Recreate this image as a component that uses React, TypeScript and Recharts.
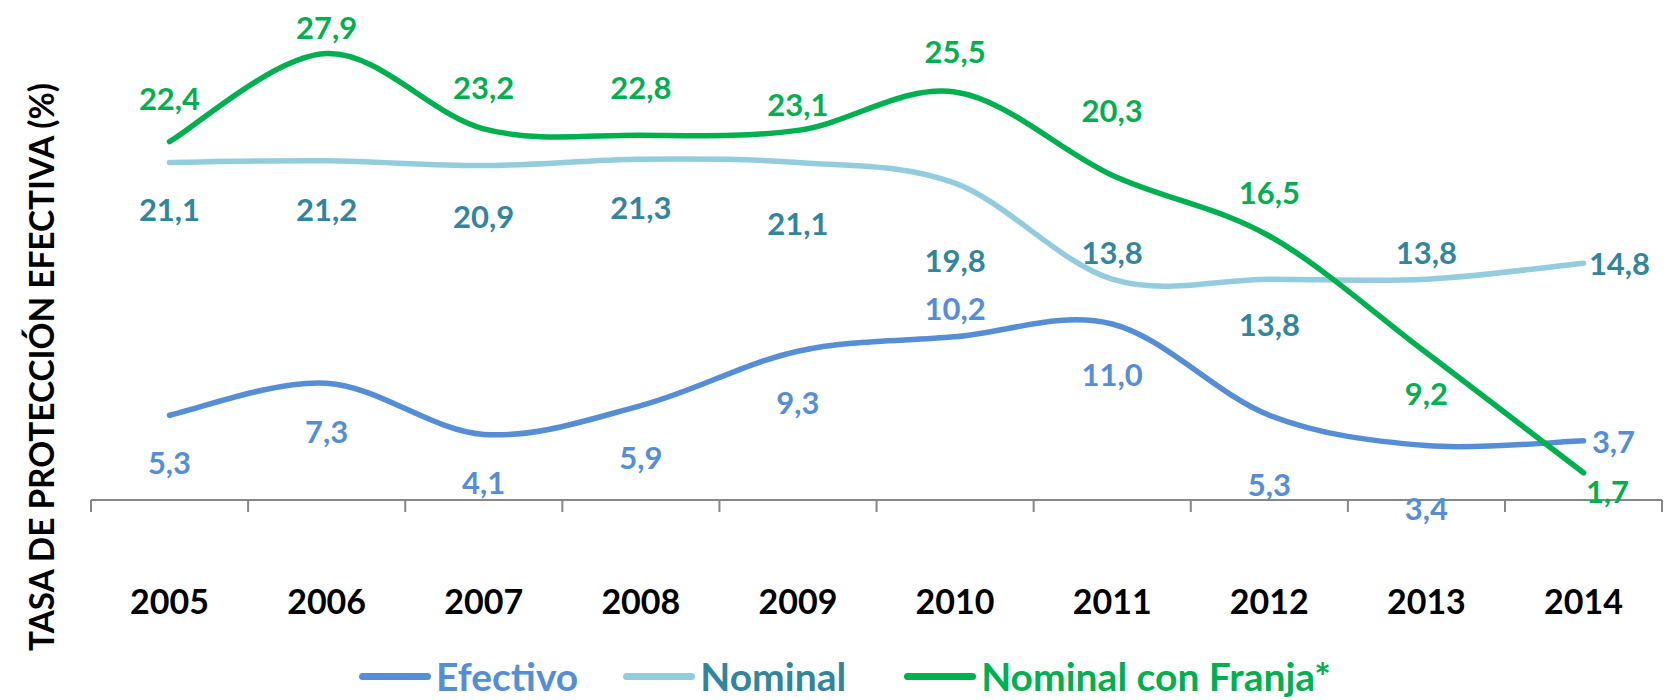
import { LineChart, Line, XAxis, YAxis, LabelList } from 'recharts'

const years = ['2005', '2006', '2007', '2008', '2009', '2010', '2011', '2012', '2013', '2014']
const efectivo = [5.3, 7.3, 4.1, 5.9, 9.3, 10.2, 11.0, 5.3, 3.4, 3.7]
const nominal = [21.1, 21.2, 20.9, 21.3, 21.1, 19.8, 13.8, 13.8, 13.8, 14.8]
const franja = [22.4, 27.9, 23.2, 22.8, 23.1, 25.5, 20.3, 16.5, 9.2, 1.7]

// label nudges (px from the point), like hand-placed Excel labels
const efectivoDx = [0, 0, 0, 0, 0, 0, 0, 0, 0, 30]
const efectivoDy = [47, 48, 48, 51, 51, -29, 50, 69, 62, 0]
const nominalDx = [0, 0, 0, 0, 0, 0, 0, 0, 0, 36]
const nominalDy = [47, 48, 50, 48, 61, 77, -27, 45, -27, 0]
const franjaDx = [0, 0, 0, 0, 0, 0, 0, 0, 0, 24]
const franjaDy = [-44, -27, -42, -48, -26, -41, -65, -44, 40, 18]

const C_EFE = '#558ED5'
const C_NOM = '#93CDDD'
const C_NOM_TXT = '#31859C'
const C_FRA = '#00B050'
const FONT = 'Lato, "Open Sans", sans-serif'
const HALF = 78.5

const data = years.map((year, i) => ({
  year,
  efectivo: efectivo[i],
  nominal: nominal[i],
  franja: franja[i],
}))

const fmt = (v: number) => v.toFixed(1).replace('.', ',')

// Excel-like smoothed line (Catmull-Rom through the points)
function excelCurve(context: any) {
  let pts: number[][] = []
  return {
    areaStart() {},
    areaEnd() {},
    lineStart() {
      pts = []
    },
    point(x: number, y: number) {
      pts.push([+x, +y])
    },
    lineEnd() {
      if (!pts.length) return
      context.moveTo(pts[0][0], pts[0][1])
      if (pts.length === 1) return
      for (let i = 0; i < pts.length - 1; i++) {
        const p0 = pts[i - 1] || pts[i]
        const p1 = pts[i]
        const p2 = pts[i + 1]
        const p3 = pts[i + 2] || p2
        context.bezierCurveTo(
          p1[0] + (p2[0] - p0[0]) / 6,
          p1[1] + (p2[1] - p0[1]) / 6,
          p2[0] - (p3[0] - p1[0]) / 6,
          p2[1] - (p3[1] - p1[1]) / 6,
          p2[0],
          p2[1],
        )
      }
    },
  }
}

const makeLabel = (color: string, dxs: number[], dys: number[]) => (props: any) => {
  const vb = props.viewBox || {}
  const x = props.x ?? vb.x
  const y = props.y ?? vb.y
  const i = props.index ?? 0
  return (
    <text
      x={x + (dxs[i] || 0)}
      y={y + (dys[i] || 0)}
      textAnchor="middle"
      dominantBaseline="central"
      fill={color}
      fontFamily={FONT}
      fontWeight={700}
      fontSize={31}
    >
      {fmt(Number(props.value))}
    </text>
  )
}

const YearTick = (props: any) => {
  const { x, y, payload, index } = props
  return (
    <g>
      <line x1={x - HALF} x2={x - HALF} y1={y} y2={y + 12} stroke="#868686" strokeWidth={2} />
      {index === years.length - 1 && (
        <line x1={x + HALF} x2={x + HALF} y1={y} y2={y + 12} stroke="#868686" strokeWidth={2} />
      )}
      <text
        x={x}
        y={y + 100}
        textAnchor="middle"
        dominantBaseline="central"
        fontFamily={FONT}
        fontWeight={700}
        fontSize={34}
        fill="#000"
      >
        {payload.value}
      </text>
    </g>
  )
}

const legendItems = [
  { name: 'Efectivo', line: C_EFE, text: C_EFE },
  { name: 'Nominal', line: C_NOM, text: C_NOM_TXT },
  { name: 'Nominal con Franja*', line: C_FRA, text: C_FRA },
]

export default function App() {
  return (
    <div style={{ position: 'absolute', left: 0, top: 0, width: 1667, height: 700, background: '#fff' }}>
      <LineChart width={1667} height={700} data={data} margin={{ top: 20, right: 5, left: 91, bottom: 70 }}>
        <XAxis
          dataKey="year"
          height={130}
          padding={{ left: HALF, right: HALF }}
          axisLine={{ stroke: '#868686', strokeWidth: 2 }}
          tickLine={false}
          tickSize={0}
          tickMargin={0}
          interval={0}
          tick={<YearTick />}
        />
        <YAxis hide domain={[0, 30]} />
        <Line
          dataKey="efectivo"
          name="Efectivo"
          type={excelCurve as any}
          stroke={C_EFE}
          strokeWidth={5.5}
          strokeLinecap="round"
          dot={false}
          activeDot={false}
          isAnimationActive={false}
        >
          <LabelList dataKey="efectivo" content={makeLabel(C_EFE, efectivoDx, efectivoDy)} />
        </Line>
        <Line
          dataKey="nominal"
          name="Nominal"
          type={excelCurve as any}
          stroke={C_NOM}
          strokeWidth={5.5}
          strokeLinecap="round"
          dot={false}
          activeDot={false}
          isAnimationActive={false}
        >
          <LabelList dataKey="nominal" content={makeLabel(C_NOM_TXT, nominalDx, nominalDy)} />
        </Line>
        <Line
          dataKey="franja"
          name="Nominal con Franja*"
          type={excelCurve as any}
          stroke={C_FRA}
          strokeWidth={5.5}
          strokeLinecap="round"
          dot={false}
          activeDot={false}
          isAnimationActive={false}
        >
          <LabelList dataKey="franja" content={makeLabel(C_FRA, franjaDx, franjaDy)} />
        </Line>
      </LineChart>

      <svg width={80} height={700} style={{ position: 'absolute', left: 0, top: 0 }}>
        <text
          x={40}
          y={367}
          transform="rotate(-90 40 367)"
          textAnchor="middle"
          dominantBaseline="central"
          fontFamily={FONT}
          fontWeight={700}
          fontSize={34}
          textLength={568}
          lengthAdjust="spacingAndGlyphs"
          fill="#000"
        >
          TASA DE PROTECCIÓN EFECTIVA (%)
        </text>
      </svg>

      <div
        style={{
          position: 'absolute',
          left: 359,
          top: 650,
          display: 'flex',
          alignItems: 'center',
          fontFamily: FONT,
          fontWeight: 700,
          fontSize: 39,
          lineHeight: '52px',
        }}
      >
        {legendItems.map((it, i) => (
          <div key={it.name} style={{ display: 'flex', alignItems: 'center', marginRight: i === 0 ? 45 : 58 }}>
            <span style={{ display: 'inline-block', width: 72, height: 7, borderRadius: 4, background: it.line, marginRight: 5 }} />
            <span style={{ color: it.text }}>{it.name}</span>
          </div>
        ))}
      </div>
    </div>
  )
}
